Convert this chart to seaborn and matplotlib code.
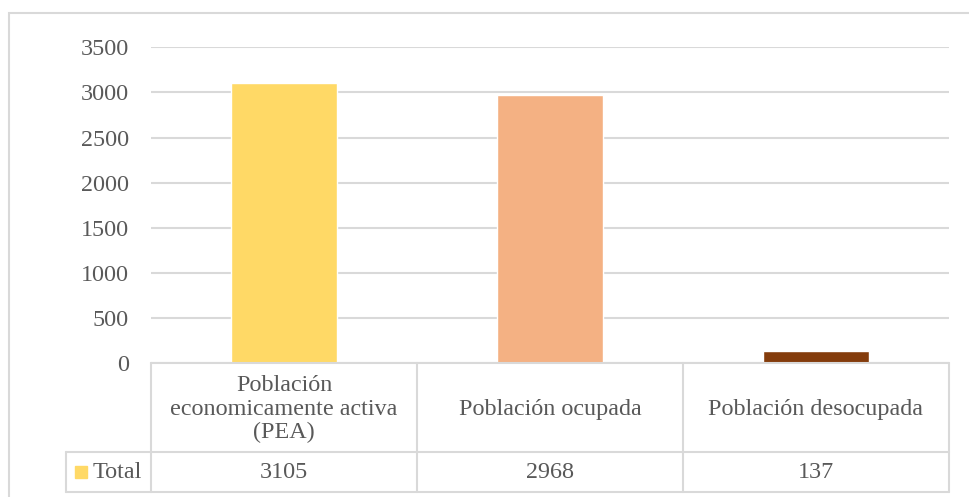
import numpy as np
import pandas as pd
import matplotlib.pyplot as plt
import matplotlib.transforms as mtransforms
from matplotlib.patches import Rectangle
import seaborn as sns

# datos del grafico
categorias = [
    "Población\neconomicamente activa\n(PEA)",
    "Población ocupada",
    "Población desocupada",
]
valores = [3105, 2968, 137]
colores = ["#FFD966", "#F4B183", "#843C0C"]
serie = "Total"
marcas_y = [0, 500, 1000, 1500, 2000, 2500, 3000, 3500]

gris_texto = "#595959"
gris_linea = "#D9D9D9"
tam = 17.4

sns.set_style("white")
plt.rcParams["font.family"] = "serif"
plt.rcParams["font.serif"] = ["Liberation Serif", "Times New Roman", "DejaVu Serif"]

df = pd.DataFrame({"categoria": categorias, "valor": valores})

W, H = 969, 497
fig = plt.figure(figsize=(W / 100, H / 100), dpi=100)
ax = fig.add_axes([151 / W, (H - 363) / H, (949 - 151) / W, (363 - 47.3) / H])

sns.barplot(
    data=df, x="categoria", y="valor", hue="categoria", palette=colores,
    width=0.4, saturation=1, legend=False, ax=ax,
)

ax.set_xlim(-0.5, 2.5)
ax.set_ylim(0, 3500)
ax.set_yticks(marcas_y)
ax.set_xticks([])
ax.set_xlabel("")
ax.set_ylabel("")
ax.yaxis.grid(True, color=gris_linea, linewidth=1.5)
ax.set_axisbelow(True)
for lado in ax.spines.values():
    lado.set_visible(False)
ax.tick_params(axis="y", length=0, pad=16, labelsize=tam, labelcolor=gris_texto)

# tabla de datos debajo del eje
trans = mtransforms.blended_transform_factory(ax.transData, ax.transAxes)
y_top, y_mid, y_bot = 0.0, -0.282, -0.4086
x_izq = -0.82
kw = dict(color=gris_linea, linewidth=1.5, transform=trans, clip_on=False)
ax.plot([-0.5, 2.5], [y_top, y_top], **kw)
ax.plot([x_izq, 2.5], [y_mid, y_mid], **kw)
ax.plot([x_izq, 2.5], [y_bot, y_bot], **kw)
ax.plot([x_izq, x_izq], [y_mid, y_bot], **kw)
for xb in [-0.5, 0.5, 1.5, 2.5]:
    ax.plot([xb, xb], [y_top, y_bot], **kw)

for i, (cat, val) in enumerate(zip(categorias, valores)):
    ax.text(i, (y_top + y_mid) / 2 - 0.005, cat, transform=trans, ha="center", va="center",
            fontsize=tam, color=gris_texto, linespacing=1.15)
    ax.text(i, (y_mid + y_bot) / 2, str(val), transform=trans, ha="center", va="center",
            fontsize=tam, color=gris_texto)

# clave de la serie
ax.plot([-0.765], [(y_mid + y_bot) / 2], marker="s", markersize=9,
        color=colores[0], transform=trans, clip_on=False, linestyle="none")
ax.text(-0.72, (y_mid + y_bot) / 2, serie, transform=trans, ha="left", va="center",
        fontsize=tam, color=gris_texto)

# borde exterior del grafico
fig.add_artist(Rectangle((9 / W, -0.1), 1.5, (H - 13) / H + 0.1, fill=False,
                         edgecolor=gris_linea, linewidth=1.5, transform=fig.transFigure))

fig.savefig("out.png", dpi=100)
